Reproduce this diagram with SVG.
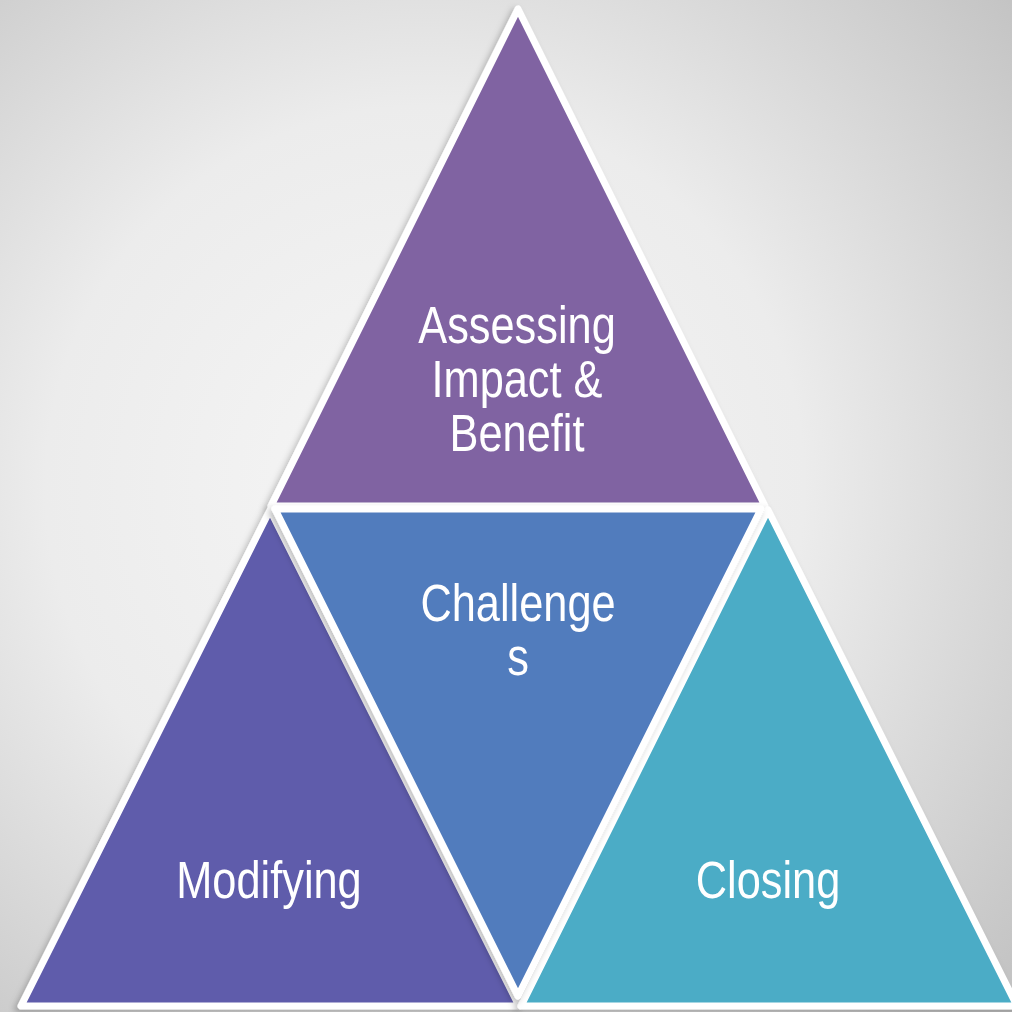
<svg xmlns="http://www.w3.org/2000/svg" width="1012" height="1012" viewBox="0 0 1012 1012">
  <defs>
    <radialGradient id="bg" cx="42%" cy="48%" r="75%">
      <stop offset="0" stop-color="#f6f6f6"/>
      <stop offset="0.5" stop-color="#ececec"/>
      <stop offset="1" stop-color="#c4c4c4"/>
    </radialGradient>
    <filter id="sh" x="-10%" y="-10%" width="120%" height="120%">
      <feDropShadow dx="-3" dy="3" stdDeviation="3" flood-color="#000" flood-opacity="0.25"/>
    </filter>
  </defs>
  <style>
    .tri { stroke: #ffffff; stroke-width: 7; stroke-linejoin: round; }
    .lbl { fill: #ffffff; font-family: "Liberation Sans", Arial, sans-serif; font-size: 51px; text-anchor: middle; }
  </style>
  <rect x="0" y="0" width="1012" height="1012" fill="url(#bg)"/>
  <g id="node-top" filter="url(#sh)">
    <polygon class="tri" points="518,9 271,506 765,506" fill="#8064a2"/>
    <g transform="translate(517,0) scale(0.85,1)">
      <text class="lbl" x="0" y="343">Assessing</text>
      <text class="lbl" x="0" y="397">Impact &amp;</text>
      <text class="lbl" x="0" y="451">Benefit</text>
    </g>
  </g>
  <g id="node-left" filter="url(#sh)">
    <polygon class="tri" points="270,510 21,1006 519,1006" fill="#5e5bab"/>
    <g transform="translate(269,0) scale(0.85,1)">
      <text class="lbl" x="0" y="898">Modifying</text>
    </g>
  </g>
  <g id="node-right" filter="url(#sh)">
    <polygon class="tri" points="768,510 521,1006 1017,1006" fill="#4bacc6"/>
    <g transform="translate(768,0) scale(0.85,1)">
      <text class="lbl" x="0" y="898">Closing</text>
    </g>
  </g>
  <g id="node-middle" filter="url(#sh)">
    <polygon class="tri" points="275,509 761,509 518,996" fill="#517bbd"/>
    <g transform="translate(518,0) scale(0.85,1)">
      <text class="lbl" x="0" y="621">Challenge</text>
      <text class="lbl" x="0" y="675">s</text>
    </g>
  </g>
  <g id="connectors"></g>
</svg>
